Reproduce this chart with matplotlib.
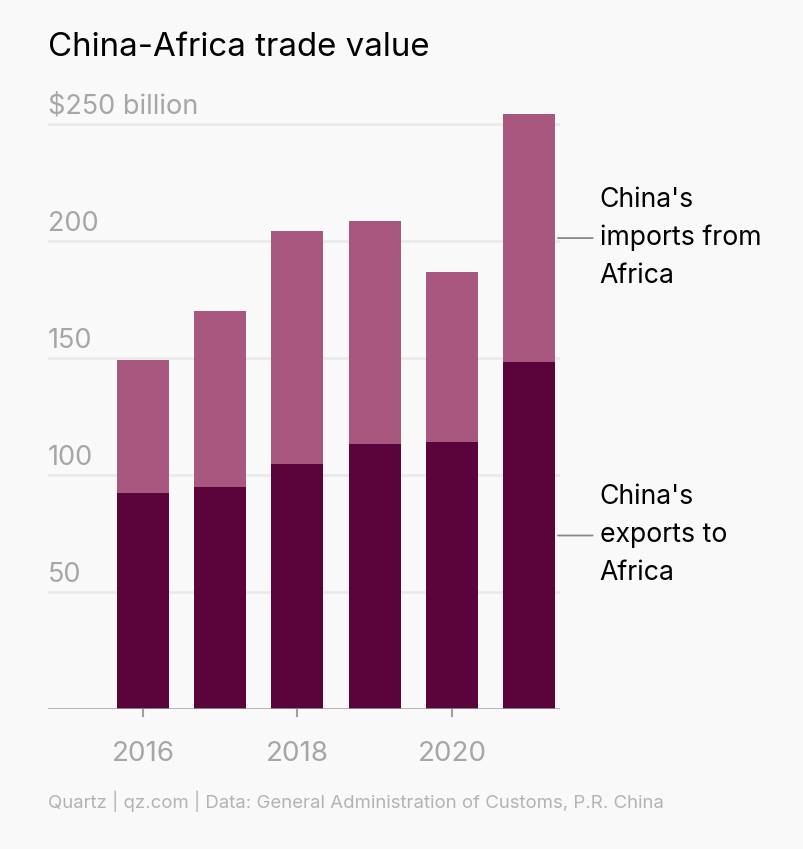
import matplotlib
matplotlib.use("Agg")
import matplotlib.pyplot as plt
import matplotlib.transforms as mtransforms

years = [2016, 2017, 2018, 2019, 2020, 2021]
exports = [92.2, 94.7, 104.9, 113.2, 114.2, 148.3]
imports = [56.9, 75.3, 99.3, 95.5, 72.7, 105.9]
ytick_vals = [50, 100, 150, 200, 250]
ytick_labels = ["50", "100", "150", "200", "$250 billion"]
xtick_vals = [2016, 2018, 2020]

plt.rcParams['font.family'] = ['Inter', 'DejaVu Sans']
BG = "#f9f9f9"
DARK = "#5b043b"
LIGHT = "#a8577f"
GRAY = "#a6a6a6"

W, H = 804, 849
fig = plt.figure(figsize=(W / 100, H / 100), dpi=100, facecolor=BG)
ymax = 260
left, right, bottom_px = 48, 560, 709
px_per_unit = 117 / 50
top_px = bottom_px - ymax * px_per_unit
ax = fig.add_axes([left / W, (H - bottom_px) / H, (right - left) / W, (bottom_px - top_px) / H])
ax.set_facecolor(BG)

ax.bar(years, exports, width=0.675, color=DARK, zorder=3)
ax.bar(years, imports, width=0.675, bottom=exports, color=LIGHT, zorder=3)

ax.set_xlim(2014.77, 2021.4)
ax.set_ylim(0, ymax)

for v in ytick_vals:
    ax.axhline(v, color="#e9e9e9", lw=1.8, zorder=1)
ax.axhline(0, color="#a0a0a0", lw=1.8, zorder=4)

trans = mtransforms.blended_transform_factory(ax.transAxes, ax.transData)
for v, lab in zip(ytick_vals, ytick_labels):
    ax.annotate(lab, xy=(0, v), xycoords=trans, xytext=(0, 3), textcoords="offset points",
                ha="left", va="bottom", fontsize=19.5, color=GRAY)

for s in ax.spines.values():
    s.set_visible(False)
ax.set_yticks([])
ax.set_xticks(xtick_vals)
ax.set_xticklabels([str(x) for x in xtick_vals])
ax.tick_params(axis="x", length=6, width=1.5, color="#a0a0a0", labelsize=20,
               labelcolor=GRAY, pad=17)

# annotations for 2021
last = len(years) - 1
exp_mid = exports[last] / 2
imp_mid = exports[last] + imports[last] / 2
for ymid, txt in [(imp_mid, "China's\nimports from\nAfrica"), (exp_mid, "China's\nexports to\nAfrica")]:
    ax.annotate("", xy=(years[last] + 0.3375, ymid), xytext=(years[last] + 0.86, ymid),
                xycoords="data", textcoords="data",
                arrowprops=dict(arrowstyle="-", color="#888888", lw=1.3), annotation_clip=False)
    ax.text(years[last] + 0.915, ymid, txt, ha="left", va="center", fontsize=19.2,
            color="black", linespacing=1.6, clip_on=False)

fig.text(48 / W, 1 - 48 / H, "China-Africa trade value", ha="left", va="center",
         fontsize=23.8, color="black")
fig.text(48 / W, 1 - 801 / H, "Quartz | qz.com | Data: General Administration of Customs, P.R. China",
         ha="left", va="center", fontsize=13.4, color="#b3b3b3")

fig.savefig("out.png", dpi=100, facecolor=BG)
